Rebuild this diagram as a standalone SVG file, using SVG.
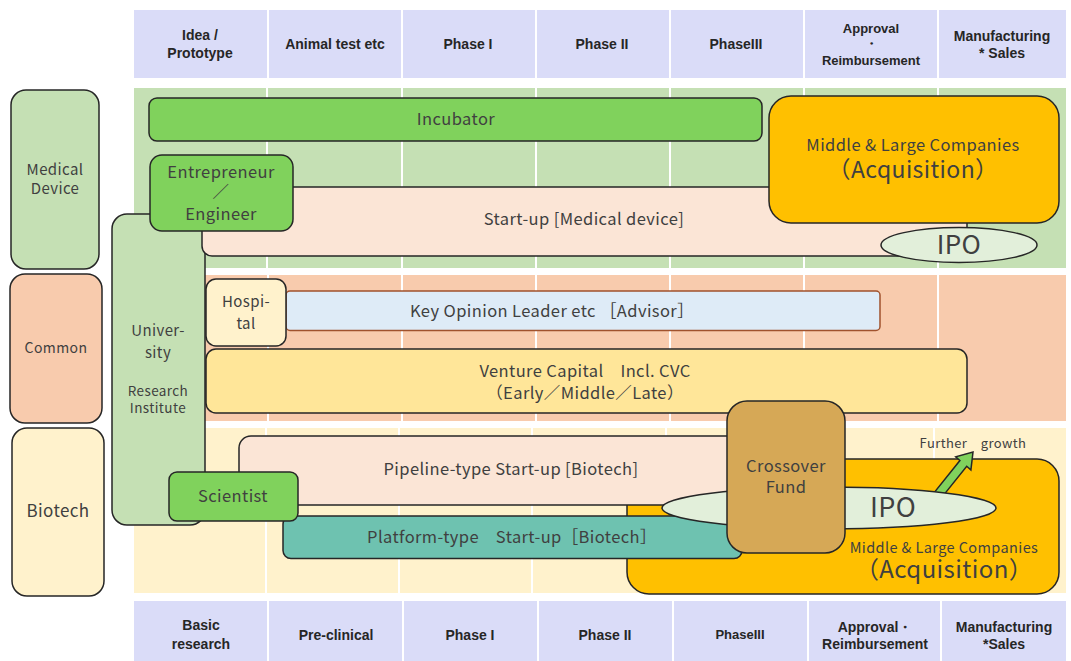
<svg xmlns="http://www.w3.org/2000/svg" width="1071" height="661" viewBox="0 0 1071 661">
<style>
.hd{fill:#dadcf8}
.ht{font-family:"Liberation Sans",Arial,sans-serif;font-weight:bold;font-size:14px;fill:#262626;text-anchor:middle}
.hs{font-size:13px}
.div{stroke:#ffffff;stroke-width:2}
.bx{stroke:#262626;stroke-width:1.5}
.t{font-family:"Noto Sans CJK JP","Noto Sans",sans-serif;fill:#404040;text-anchor:middle;font-size:16.5px;letter-spacing:0.4px}
</style>
<rect width="1071" height="661" fill="#ffffff"/>
<g id="header-top">
<rect class="hd" x="134" y="10" width="133" height="68"/>
<rect class="hd" x="269" y="10" width="132" height="68"/>
<rect class="hd" x="403" y="10" width="132" height="68"/>
<rect class="hd" x="537" y="10" width="132" height="68"/>
<rect class="hd" x="671" y="10" width="132" height="68"/>
<rect class="hd" x="805" y="10" width="132" height="68"/>
<rect class="hd" x="939" y="10" width="127" height="68"/>
<text class="ht" x="200" y="40">Idea /</text>
<text class="ht" x="200" y="58">Prototype</text>
<text class="ht" x="335" y="49">Animal test etc</text>
<text class="ht" x="468" y="49">Phase I</text>
<text class="ht" x="602" y="49">Phase II</text>
<text class="ht" x="736" y="49">PhaseIII</text>
<text class="ht hs" x="871" y="33">Approval</text>
<text class="ht hs" x="871" y="48">・</text>
<text class="ht hs" x="871" y="65">Reimbursement</text>
<text class="ht" x="1002" y="41">Manufacturing</text>
<text class="ht" x="1002" y="58">* Sales</text>
</g>
<g id="header-bottom">
<rect class="hd" x="134" y="601" width="133" height="60"/>
<rect class="hd" x="269" y="601" width="133" height="60"/>
<rect class="hd" x="404" y="601" width="133" height="60"/>
<rect class="hd" x="539" y="601" width="133" height="60"/>
<rect class="hd" x="674" y="601" width="133" height="60"/>
<rect class="hd" x="809" y="601" width="131" height="60"/>
<rect class="hd" x="942" y="601" width="124" height="60"/>
<text class="ht" x="201" y="630">Basic</text>
<text class="ht" x="201" y="649">research</text>
<text class="ht" x="336" y="640">Pre-clinical</text>
<text class="ht" x="470" y="640">Phase I</text>
<text class="ht" x="605" y="640">Phase II</text>
<text class="ht hs" x="740" y="639">PhaseIII</text>
<text class="ht" x="875" y="632">Approval・</text>
<text class="ht" x="875" y="649">Reimbursement</text>
<text class="ht" x="1004" y="632">Manufacturing</text>
<text class="ht" x="1004" y="649">*Sales</text>
</g>
<g id="bands">
<rect x="134" y="88" width="932" height="180" fill="#c5e0b4"/>
<rect x="134" y="275" width="932" height="146" fill="#f8cbad"/>
<rect x="134" y="428" width="932" height="165" fill="#fff2cc"/>
<path class="div" d="M267 88V268M402 88V268M536 88V268M670 88V268M804 88V268M938 88V268"/>
<path class="div" d="M268 275V421M402 275V421M536 275V421M670 275V421M804 275V421M938 275V421"/>
<path class="div" d="M266 428V593M399 428V593M532 428V593M666 428V593M800 428V593M934 428V593"/>
</g>
<g id="medical-device">
<rect class="bx" x="11" y="90" width="88" height="179" rx="15" fill="#c5e0b4"/>
<text class="t" x="55" y="175" style="font-size:15px">Medical</text>
<text class="t" x="55" y="194" style="font-size:15px">Device</text>
</g>
<g id="common">
<rect class="bx" x="10" y="274" width="92" height="149" rx="15" fill="#f8cbad"/>
<text class="t" x="56" y="353" style="font-size:14px">Common</text>
</g>
<g id="biotech">
<rect class="bx" x="12" y="428" width="92" height="168" rx="15" fill="#fff2cc"/>
<text class="t" x="58" y="517" style="font-size:17px">Biotech</text>
</g>
<g id="university">
<rect class="bx" x="112" y="214" width="93" height="311" rx="15" fill="#c5e0b4"/>
<text class="t" x="158" y="336" style="font-size:15px">Univer-</text>
<text class="t" x="158" y="358" style="font-size:15px">sity</text>
<text class="t" x="158" y="396" style="font-size:13.5px">Research</text>
<text class="t" x="158" y="413" style="font-size:13.5px">Institute</text>
</g>
<g id="incubator">
<rect class="bx" x="149" y="98" width="613" height="43" rx="8" fill="#80d25c"/>
<text class="t" x="456" y="125">Incubator</text>
</g>
<g id="startup-medical">
<rect class="bx" x="202" y="187" width="765" height="69" rx="10" fill="#fbe5d6"/>
<text class="t" x="584" y="225">Start-up [Medical device]</text>
</g>
<g id="acq-top">
<rect class="bx" x="769" y="96" width="290" height="127" rx="22" fill="#ffc000"/>
<text class="t" x="913" y="151" style="font-size:16.5px">Middle &amp; Large Companies</text>
<text class="t" x="913" y="178" style="font-size:23px">（Acquisition）</text>
</g>
<g id="ipo-top">
<ellipse class="bx" cx="959" cy="245" rx="78" ry="17.5" fill="#e2efda"/>
<text class="t" x="959" y="254" style="font-size:26px">IPO</text>
</g>
<g id="entrepreneur">
<rect class="bx" x="150" y="155" width="143" height="76" rx="12" fill="#80d25c"/>
<text class="t" x="221" y="178">Entrepreneur</text>
<text class="t" x="221" y="198">／</text>
<text class="t" x="221" y="220">Engineer</text>
</g>
<g id="kol">
<rect x="286" y="291" width="594" height="39.5" rx="4" fill="#deebf7" stroke="#a0522d" stroke-width="1.5"/>
<text class="t" x="552" y="317">Key Opinion Leader etc ［Advisor］</text>
</g>
<g id="hospital">
<rect class="bx" x="206" y="279" width="80" height="67" rx="10" fill="#fff2cc"/>
<text class="t" x="246" y="307" style="font-size:15px">Hospi-</text>
<text class="t" x="246" y="329" style="font-size:15px">tal</text>
</g>
<g id="vc">
<rect class="bx" x="206" y="349" width="761" height="64" rx="10" fill="#ffe699"/>
<text class="t" x="585" y="377">Venture Capital　Incl. CVC</text>
<text class="t" x="585" y="399">（Early／Middle／Late）</text>
</g>
<g id="acq-bottom">
<rect class="bx" x="627" y="459" width="432" height="135" rx="22" fill="#ffc000"/>
<text class="t" x="944" y="553" style="font-size:14.5px">Middle &amp; Large  Companies</text>
<text class="t" x="944" y="578" style="font-size:24px">（Acquisition）</text>
</g>
<g id="pipeline">
<rect class="bx" x="239" y="436" width="500" height="69" rx="12" fill="#fbe5d6"/>
<text class="t" x="511" y="475">Pipeline-type Start-up [Biotech]</text>
</g>
<g id="platform">
<rect class="bx" x="283" y="516" width="459" height="42.5" rx="8" fill="#6ec2b0"/>
<text class="t" x="512" y="543">Platform-type　Start-up［Biotech］</text>
</g>
<g id="scientist">
<rect class="bx" x="169" y="472" width="129" height="49" rx="8" fill="#80d25c"/>
<text class="t" x="233" y="502">Scientist</text>
</g>
<g id="connectors">
<path class="bx" fill="#80d25c" stroke-linejoin="miter" d="M941.4 497.9L966.7 466.3L970.9 469.9L973 452L955.7 456.9L959.9 460.5L934.6 492.1Z"/>
</g>
<g id="ipo-bottom">
<ellipse class="bx" cx="829" cy="508" rx="167" ry="21" fill="#e2efda"/>
<text class="t" x="893" y="517" style="font-size:27px">IPO</text>
</g>
<g id="crossover">
<rect class="bx" x="727" y="401" width="118" height="152" rx="20" fill="#d6a856"/>
<text class="t" x="786" y="472">Crossover</text>
<text class="t" x="786" y="493">Fund</text>
</g>
<g id="further-growth">
<text class="t" x="973" y="448" style="font-size:13px">Further　growth</text>
</g>
</svg>
